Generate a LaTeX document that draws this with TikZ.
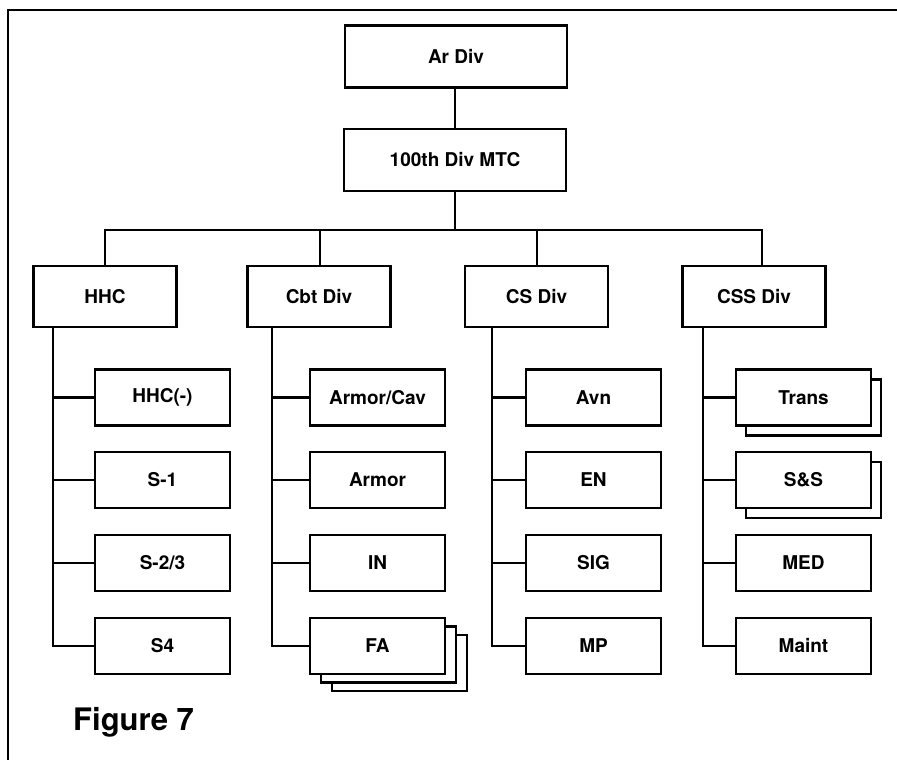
\documentclass[tikz,border=0pt]{standalone}
\usepackage{fontspec}
\setmainfont{TeX Gyre Heros}
\begin{document}
\begin{tikzpicture}[x=1pt,y=-1pt,
  conn/.style={line width=2.6pt, line cap=rect, line join=miter},
  orgbase/.style={draw, line width=2.6pt, fill=white, inner sep=0pt,
    font=\fontsize{19}{19}\selectfont\bfseries},
  topbox/.style={orgbase, minimum width=222pt, minimum height=62pt},
  midbox/.style={orgbase, minimum width=143pt, minimum height=61pt},
  subbox/.style={orgbase, minimum width=135pt, minimum height=56pt},
  figlabel/.style={font=\fontsize{31}{31}\selectfont\bfseries, inner sep=0pt, anchor=base west}
]
\useasboundingbox (0,0) rectangle (897,760);
\fill[white] (0,0) rectangle (897,760);

% frame
\coordinate (frameBL) at (8,760);
\coordinate (frameTL) at (8,10);
\coordinate (frameTR) at (897,10);
\draw[line width=2.4pt] (frameBL) -- (frameTL) -- (frameTR);

% top levels
\node[topbox] (ardiv) at (456,56.5) {Ar Div};
\node[topbox] (mtc) at (455,160) {100th Div MTC};
\draw[conn] (ardiv.south -| mtc.north) -- (mtc.north);

% second level
\node[midbox] (hhc) at (105,296.5) {HHC};
\node[midbox] (cbt) at (319,296.5) {Cbt Div};
\node[midbox] (cs) at (536.5,296.5) {CS Div};
\node[midbox] (css) at (754,296.5) {CSS Div};

\coordinate (bar) at (455,230);
\coordinate (hhcdrop) at (105,230);
\coordinate (cbtdrop) at (320,230);
\coordinate (csdrop) at (537,230);
\coordinate (cssdrop) at (762,230);
\draw[conn] (mtc.south) -- (bar);
\draw[conn] (hhcdrop |- hhc.north) -- (hhcdrop) -- (cssdrop) -- (cssdrop |- css.north);
\draw[conn] (cbtdrop) -- (cbtdrop |- cbt.north);
\draw[conn] (csdrop) -- (csdrop |- cs.north);

% shadows (stacked boxes)
\node[subbox] (transS) at (813.5,407.5) {};
\node[subbox] (ssS) at (813.5,490) {};
\node[subbox] (faS2) at (399.5,663) {};
\node[subbox] (faS1) at (388.5,654.5) {};

% HHC column
\node[subbox] (h1) at (162.5,397.5) {HHC(-)};
\node[subbox] (h2) at (162.5,480) {S-1};
\node[subbox] (h3) at (162.5,563) {S-2/3};
\node[subbox] (h4) at (162.5,646) {S4};
% Cbt column
\node[subbox] (c1) at (377.5,397.5) {Armor/Cav};
\node[subbox] (c2) at (377.5,480) {Armor};
\node[subbox] (c3) at (377.5,563) {IN};
\node[subbox] (c4) at (377.5,646) {FA};
% CS column
\node[subbox] (s1) at (593.5,397.5) {Avn};
\node[subbox] (s2) at (593.5,480) {EN};
\node[subbox] (s3) at (593.5,563) {SIG};
\node[subbox] (s4) at (593.5,646) {MP};
% CSS column
\node[subbox] (t1) at (803.5,397.5) {Trans};
\node[subbox] (t2) at (803.5,480) {S\&S};
\node[subbox] (t3) at (803.5,563) {MED};
\node[subbox] (t4) at (803.5,646) {Maint};

% trunks
\coordinate (hT) at (53,0);
\coordinate (cT) at (272,0);
\coordinate (sT) at (492,0);
\coordinate (tT) at (703,0);

\draw[conn] (hhc.south -| hT) -- (hT |- h4.west) -- (h4.west);
\draw[conn] (hT |- h1.west) -- (h1.west);
\draw[conn] (hT |- h2.west) -- (h2.west);
\draw[conn] (hT |- h3.west) -- (h3.west);

\draw[conn] (cbt.south -| cT) -- (cT |- c4.west) -- (c4.west);
\draw[conn] (cT |- c1.west) -- (c1.west);
\draw[conn] (cT |- c2.west) -- (c2.west);
\draw[conn] (cT |- c3.west) -- (c3.west);

\draw[conn] (cs.south -| sT) -- (sT |- s4.west) -- (s4.west);
\draw[conn] (sT |- s1.west) -- (s1.west);
\draw[conn] (sT |- s2.west) -- (s2.west);
\draw[conn] (sT |- s3.west) -- (s3.west);

\draw[conn] (css.south -| tT) -- (tT |- t4.west) -- (t4.west);
\draw[conn] (tT |- t1.west) -- (t1.west);
\draw[conn] (tT |- t2.west) -- (t2.west);
\draw[conn] (tT |- t3.west) -- (t3.west);

% caption
\node[figlabel] (fig) at (73,730) {Figure 7};
\end{tikzpicture}
\end{document}
